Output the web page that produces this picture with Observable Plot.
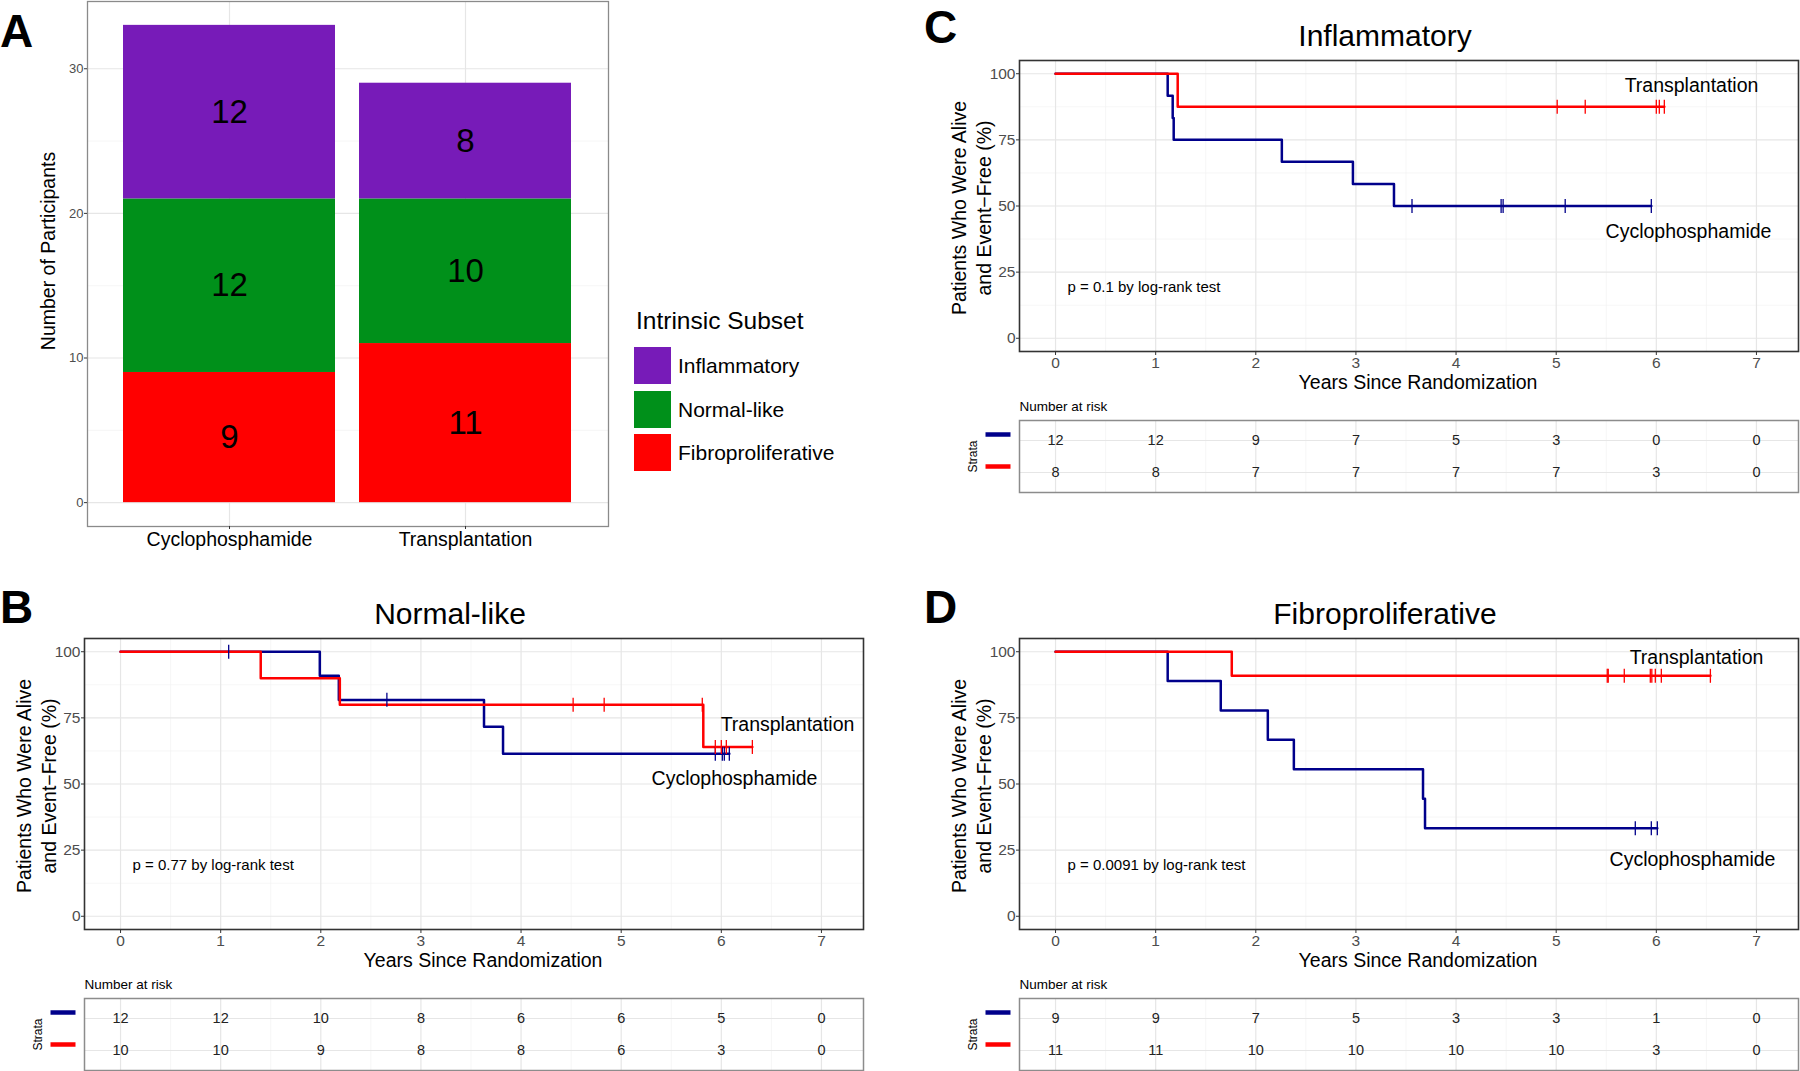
<!DOCTYPE html>
<html><head><meta charset="utf-8">
<script src="https://cdn.jsdelivr.net/npm/d3@7"></script>
<script src="https://cdn.jsdelivr.net/npm/@observablehq/plot@0.6"></script>
<style>
body{margin:0;background:#fff;width:1800px;height:1071px;position:relative;overflow:hidden;font-family:"Liberation Sans",Arial,Helvetica,sans-serif;}
.abs{position:absolute;}
.letter{position:absolute;font-weight:bold;font-size:46px;line-height:1;color:#000;}
.lg-title{position:absolute;font-size:24.5px;line-height:1;color:#000;}
.lg-sw{position:absolute;width:37px;height:37px;}
.lg-lab{position:absolute;font-size:21px;line-height:1;color:#000;}
</style></head><body>
<script>
// ---------- DATA ----------
const arms = ["Cyclophosphamide", "Transplantation"];
const subsets = ["Inflammatory", "Normal-like", "Fibroproliferative"];
const countsCyclo = [12, 12, 9];
const countsTrans = [8, 10, 11];
const barTicks = [0, 10, 20, 30];

const xTicks = [0, 1, 2, 3, 4, 5, 6, 7];
const yTicks = [0, 25, 50, 75, 100];
const riskTimes = [0, 1, 2, 3, 4, 5, 6, 7];

// Inflammatory (C)
const inflCycloTime = [0, 1.12, 1.17, 1.18, 2.26, 2.97, 3.38, 5.95];
const inflCycloSurv = [100, 91.7, 83.3, 75.0, 66.7, 58.3, 50.0, 50.0];
const inflCycloCensor = [3.56, 4.45, 4.47, 5.09, 5.95];
const inflTransTime = [0, 1.22, 6.08];
const inflTransSurv = [100, 87.5, 87.5];
const inflTransCensor = [5.01, 5.29, 6.0, 6.03, 6.08];
const inflRiskCyclo = [12, 12, 9, 7, 5, 3, 0, 0];
const inflRiskTrans = [8, 8, 7, 7, 7, 7, 3, 0];

// Normal-like (B)
const normCycloTime = [0, 1.99, 2.18, 3.63, 3.82, 6.08];
const normCycloSurv = [100, 90.9, 81.8, 71.6, 61.4, 61.4];
const normCycloCensor = [1.08, 2.66, 5.94, 6.01, 6.03, 6.08];
const normTransTime = [0, 1.40, 2.19, 5.82, 6.31];
const normTransSurv = [100, 90.0, 80.0, 64.0, 64.0];
const normTransCensor = [4.52, 4.83, 5.81, 5.94, 6.0, 6.05, 6.31];
const normRiskCyclo = [12, 12, 10, 8, 6, 6, 5, 0];
const normRiskTrans = [10, 10, 9, 8, 8, 6, 3, 0];

// Fibroproliferative (D)
const fibCycloTime = [0, 1.12, 1.65, 2.12, 2.38, 3.67, 3.69, 6.01];
const fibCycloSurv = [100, 88.9, 77.8, 66.7, 55.6, 44.4, 33.3, 33.3];
const fibCycloCensor = [5.79, 5.95, 6.01];
const fibTransTime = [0, 1.76, 6.54];
const fibTransSurv = [100, 90.9, 90.9];
const fibTransCensor = [5.51, 5.52, 5.68, 5.94, 5.955, 5.99, 6.05, 6.54];
const fibRiskCyclo = [9, 9, 7, 5, 3, 3, 1, 0];
const fibRiskTrans = [11, 11, 10, 10, 10, 10, 3, 0];

// ---------- STYLE ----------
const FONT = '"Liberation Sans", Arial, Helvetica, sans-serif';
const subsetColors = ["#771BB8", "#00901A", "#FF0000"];
const BLUE = "#00008B", RED = "#FF0000";
const minorX = [0.5, 1.5, 2.5, 3.5, 4.5, 5.5, 6.5];
const minorY = [12.5, 37.5, 62.5, 87.5];
const MAJ = {stroke: "#E6E6E6", strokeWidth: 1.2, strokeOpacity: 1};
const MIN = {stroke: "#F2F2F2", strokeWidth: 0.7, strokeOpacity: 1};
const CTR = {textAnchor: "middle", lineAnchor: "middle"};
const vbar = {draw(ctx, size) { const h = Math.sqrt(size / Math.PI); ctx.moveTo(0, -h); ctx.lineTo(0, h); }};
const hbar = {draw(ctx, size) { const h = Math.sqrt(size / Math.PI); ctx.moveTo(-h, 0); ctx.lineTo(h, 0); }};

function place(el, left, top) {
  const d = document.createElement("div");
  d.className = "abs";
  d.style.left = left + "px";
  d.style.top = top + "px";
  d.appendChild(el);
  document.body.appendChild(d);
}

// ---------- PANEL A ----------
const stackRows = [];
arms.forEach((arm, ai) => {
  const counts = ai === 0 ? countsCyclo : countsTrans;
  let acc = 0;
  [2, 1, 0].forEach(si => {
    stackRows.push({arm, subset: subsets[si], y1: acc, y2: acc + counts[si], n: counts[si]});
    acc += counts[si];
  });
});

const figA = Plot.plot({
  width: 620, height: 560,
  marginLeft: 87, marginRight: 12, marginTop: 1, marginBottom: 34,
  style: {fontFamily: FONT, background: "transparent", overflow: "visible"},
  x: {type: "band", domain: arms, paddingInner: 0.1, paddingOuter: 0.15},
  y: {domain: [-1.65, 34.65]},
  color: {domain: subsets, range: subsetColors},
  marks: [
    Plot.gridY([5, 15, 25], MIN),
    Plot.gridY(barTicks, MAJ),
    Plot.gridX(arms, MAJ),
    Plot.barY(stackRows, {x: "arm", y1: "y1", y2: "y2", fill: "subset"}),
    Plot.text(stackRows, {x: "arm", y: d => (d.y1 + d.y2) / 2, text: "n", fontSize: 33, fill: "#000"}),
    Plot.frame({stroke: "#8A8A8A", strokeWidth: 1.3}),
    Plot.axisY(barTicks, {tickSize: 3, tickPadding: 1, fontSize: 13, color: "#4D4D4D", stroke: "#333", label: null}),
    Plot.axisX(arms, {tickSize: 3, tickPadding: 3, fontSize: 19.5, color: "#000", stroke: "#333", label: null}),
    Plot.text(["Number of Participants"], {frameAnchor: "left", ...CTR, dx: -39, dy: -13, rotate: -90, fontSize: 19.5, fill: "#000"})
  ]
});
place(figA, 0, 0);

// legend
(function () {
  const t = document.createElement("div");
  t.className = "lg-title"; t.textContent = "Intrinsic Subset";
  t.style.left = "636px"; t.style.top = (321 - 12) + "px";
  document.body.appendChild(t);
  const tops = [347, 391, 434];
  subsets.forEach((s, i) => {
    const sw = document.createElement("div");
    sw.className = "lg-sw"; sw.style.background = subsetColors[i];
    sw.style.left = "634px"; sw.style.top = tops[i] + "px";
    document.body.appendChild(sw);
    const lb = document.createElement("div");
    lb.className = "lg-lab"; lb.textContent = s;
    lb.style.left = "678px"; lb.style.top = (tops[i] + 18.5 - 11) + "px";
    document.body.appendChild(lb);
  });
})();

// ---------- KM PANELS ----------
const yTitle = "Patients Who Were Alive\nand Event\u2212Free (%)";

function kmPlot(pd) {
  const mL = 80, mR = 1, mT = 50, mB = 46, fw = 779, fh = 291;
  const lines = [], cens = [];
  const ser = [
    {arm: arms[0], T: pd.cT, S: pd.cS, C: pd.cC},
    {arm: arms[1], T: pd.tT, S: pd.tS, C: pd.tC}
  ];
  for (const s of ser) {
    s.T.forEach((t, i) => lines.push({arm: s.arm, t, s: s.S[i]}));
    s.C.forEach(t => cens.push({arm: s.arm, t, s: s.S[d3.bisectRight(s.T, t) - 1]}));
  }
  return Plot.plot({
    width: mL + fw + mR, height: mT + fh + mB,
    marginLeft: mL, marginRight: mR, marginTop: mT, marginBottom: mB,
    style: {fontFamily: FONT, background: "transparent", overflow: "visible"},
    x: {domain: [-0.36, 7.42]},
    y: {domain: [-5, 105]},
    color: {domain: arms, range: [BLUE, RED]},
    marks: [
      Plot.gridX(minorX, MIN),
      Plot.gridY(minorY, MIN),
      Plot.gridX(xTicks, MAJ),
      Plot.gridY(yTicks, MAJ),
      Plot.line(lines, {x: "t", y: "s", z: "arm", stroke: "arm", curve: "step-after", strokeWidth: 2.5}),
      Plot.dot(cens, {x: "t", y: "s", stroke: "arm", fill: "none", symbol: vbar, r: 7, strokeWidth: 1.3}),
      Plot.frame({stroke: "#333", strokeWidth: 1.6}),
      Plot.axisX(xTicks, {tickSize: 4, tickPadding: 1, fontSize: 15.5, color: "#4D4D4D", stroke: "#333", label: null}),
      Plot.axisY(yTicks, {tickSize: 3, tickPadding: 1, fontSize: 15.5, color: "#4D4D4D", stroke: "#333", label: null}),
      Plot.text([pd.title], {frameAnchor: "top", ...CTR, dx: -24, dy: -24, fontSize: 30, fill: "#000"}),
      Plot.text(["Years Since Randomization"], {frameAnchor: "bottom", ...CTR, dx: 9, dy: 31, fontSize: 19.5, fill: "#000"}),
      Plot.text([yTitle], {frameAnchor: "left", ...CTR, dx: -49, dy: 2, rotate: -90, fontSize: 19.5, lineHeight: 1.28, fill: "#000"}),
      Plot.text([pd.p], {frameAnchor: "top-left", textAnchor: "start", lineAnchor: "middle", dx: 48, dy: 227, fontSize: 15, fill: "#000"}),
      Plot.text([arms[1]], {frameAnchor: "top-left", ...CTR, dx: pd.tl[0], dy: pd.tl[1], fontSize: 19.5, fill: "#000"}),
      Plot.text([arms[0]], {frameAnchor: "top-left", ...CTR, dx: pd.cl[0], dy: pd.cl[1], fontSize: 19.5, fill: "#000"})
    ]
  });
}

function riskPlot(pd) {
  const mL = 80, mR = 1, mT = 22, mB = 3, fw = 779, fh = 72;
  const rows = [];
  riskTimes.forEach((t, i) => {
    rows.push({arm: arms[0], t, n: pd.rc[i]});
    rows.push({arm: arms[1], t, n: pd.rt[i]});
  });
  return Plot.plot({
    width: mL + fw + mR, height: mT + fh + mB,
    marginLeft: mL, marginRight: mR, marginTop: mT, marginBottom: mB,
    style: {fontFamily: FONT, background: "transparent", overflow: "visible"},
    x: {domain: [-0.36, 7.42], axis: null},
    y: {type: "point", domain: arms, padding: 0.6, axis: null},
    color: {domain: arms, range: [BLUE, RED]},
    marks: [
      Plot.gridX(minorX, MIN),
      Plot.gridX(xTicks, MAJ),
      Plot.gridY(arms, MAJ),
      Plot.frame({stroke: "#8C8C8C", strokeWidth: 1.5}),
      Plot.text(rows, {x: "t", y: "arm", text: "n", fontSize: 14.5, fill: "#222"}),
      Plot.text(["Number at risk"], {frameAnchor: "top-left", textAnchor: "start", lineAnchor: "middle", dy: -14, fontSize: 13.5, fill: "#000"}),
      Plot.text(["Strata"], {frameAnchor: "left", ...CTR, dx: -46, rotate: -90, fontSize: 12, fill: "#000"}),
      Plot.dot(arms, {y: d => d, frameAnchor: "left", dx: -21.5, dy: -6, symbol: hbar, r: 12.5, stroke: d => d, strokeWidth: 4.5, fill: "none"})
    ]
  });
}

const kmPanels = [
  {title: "Inflammatory", L: 1019, T: 60, p: "p = 0.1 by log-rank test",
   cT: inflCycloTime, cS: inflCycloSurv, cC: inflCycloCensor,
   tT: inflTransTime, tS: inflTransSurv, tC: inflTransCensor,
   rc: inflRiskCyclo, rt: inflRiskTrans, tl: [672, 25], cl: [669, 171]},
  {title: "Normal-like", L: 84, T: 638, p: "p = 0.77 by log-rank test",
   cT: normCycloTime, cS: normCycloSurv, cC: normCycloCensor,
   tT: normTransTime, tS: normTransSurv, tC: normTransCensor,
   rc: normRiskCyclo, rt: normRiskTrans, tl: [703, 86], cl: [650, 140]},
  {title: "Fibroproliferative", L: 1019, T: 638, p: "p = 0.0091 by log-rank test",
   cT: fibCycloTime, cS: fibCycloSurv, cC: fibCycloCensor,
   tT: fibTransTime, tS: fibTransSurv, tC: fibTransCensor,
   rc: fibRiskCyclo, rt: fibRiskTrans, tl: [677, 19], cl: [673, 221]}
];

kmPanels.forEach(pd => {
  place(kmPlot(pd), pd.L - 80, pd.T - 50);
  place(riskPlot(pd), pd.L - 80, pd.T + 360 - 22);
});

// panel letters
[["A", 0, 8], ["B", 0, 584], ["C", 924, 4], ["D", 924, 584]].forEach(([s, x, y]) => {
  const d = document.createElement("div");
  d.className = "letter"; d.textContent = s;
  d.style.left = x + "px"; d.style.top = y + "px";
  document.body.appendChild(d);
});
</script>
</body></html>
